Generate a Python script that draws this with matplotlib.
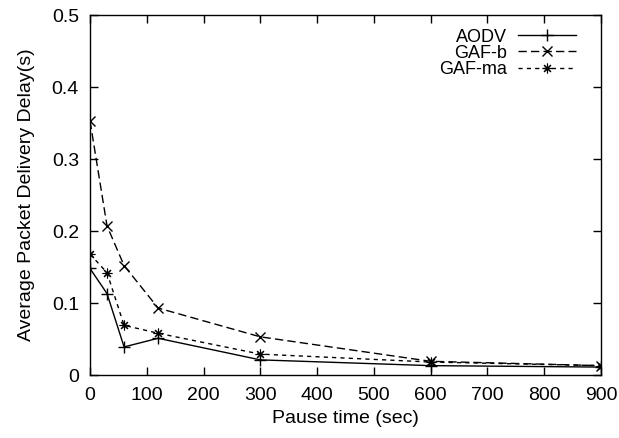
import matplotlib
matplotlib.use('Agg')
import matplotlib.pyplot as plt

plt.rcParams['font.family'] = ['Liberation Sans', 'DejaVu Sans']

pause = [0, 30, 60, 120, 300, 600, 900]
aodv = [0.148, 0.113, 0.039, 0.051, 0.021, 0.013, 0.011]
gaf_b = [0.353, 0.207, 0.152, 0.093, 0.053, 0.019, 0.013]
gaf_ma = [0.168, 0.142, 0.069, 0.058, 0.029, 0.018, 0.013]

fig = plt.figure(figsize=(6.19, 4.38), dpi=100)
# plot box: x 90..601, y 15..375 (pixels)
ax = fig.add_axes([90/619, 63/438, 511/619, 360/438])

ax.plot(pause, aodv, color='black', lw=1, marker='+', ms=8, mew=1,
        label='AODV')
ax.plot(pause, gaf_b, color='black', lw=1, marker='x', ms=7, mew=1,
        dashes=(6, 3), label='GAF-b')
ax.plot(pause, gaf_ma, color='black', lw=1, marker=(8, 2, 0), ms=7, mew=0.8,
        dashes=(3, 3), label='GAF-ma')

ax.set_xlim(0, 900)
ax.set_ylim(0, 0.5)
ax.set_xticks(range(0, 901, 100))
ax.set_yticks([0, 0.1, 0.2, 0.3, 0.4, 0.5])
ax.set_yticklabels(['0', '0.1', '0.2', '0.3', '0.4', '0.5'])
ax.tick_params(direction='in', top=True, right=True, length=6, width=1,
               labelsize=14)
ax.tick_params(axis='y', pad=8)
ax.tick_params(axis='x', pad=9)
for s in ax.spines.values():
    s.set_linewidth(1)

ax.set_xlabel('Pause time (sec)', fontsize=14, labelpad=4)
ax.set_ylabel('Average Packet Delivery Delay(s)', fontsize=14, labelpad=12)

ax.legend(loc='upper right', bbox_to_anchor=(0.951, 0.962), frameon=False,
          markerfirst=False, fontsize=13, handlelength=3.2,
          handletextpad=0.6, labelspacing=-0.05, borderpad=0,
          borderaxespad=0)

fig.savefig('out.png', dpi=100)
